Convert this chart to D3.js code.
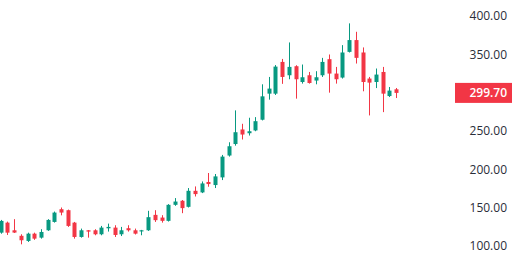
<!DOCTYPE html>
<html>
<head>
<meta charset="utf-8">
<script src="https://cdn.jsdelivr.net/npm/d3@7"></script>
<style>
  html, body { margin: 0; padding: 0; background: #fff; overflow: hidden; }
  #chart { width: 512px; height: 265px; }
</style>
</head>
<body>
<div id="chart"></div>
<script>
// candle values, left to right
const opens  = [117.4,130.5,120.5,113.3,106.6,116.1,110.9,120.5,131.4,148.0,146.7,130.5,111.8,120.5,120.5,115.3,123.1,124.0,115.3,123.2,
                120.5,119.0,120.5,140.6,137.1,132.8,153.7,159.0,151.1,172.0,169.9,183.5,179.5,189.5,218.0,233.0,252.0,247.1,250.7,264.7,
                298.7,298.7,340.1,322.7,334.5,313.9,322.7,315.8,322.7,343.7,324.9,319.7,353.2,368.6,352.4,318.4,313.9,327.0,295.6,304.4];
const highs  = [134.0,131.8,135.0,115.3,117.4,117.4,121.9,135.0,144.9,150.2,147.5,131.4,122.7,120.8,121.9,126.2,129.2,127.1,124.9,127.1,
                122.7,121.0,145.9,146.7,140.2,154.6,162.5,160.0,175.6,177.7,184.2,195.2,193.9,218.8,235.3,276.9,259.4,267.3,268.1,310.9,
                320.5,336.0,344.0,365.5,335.8,336.7,327.0,328.0,345.4,349.8,333.6,362.0,390.4,379.4,359.0,320.5,331.5,333.6,307.4,306.1];
const lows   = [116.0,114.4,117.0,102.2,105.3,108.0,109.6,119.7,130.5,140.0,124.9,109.6,110.9,110.9,114.0,114.0,118.8,111.8,113.0,118.8,
                115.0,114.0,119.7,131.4,130.5,131.9,152.4,142.8,150.2,164.6,169.0,177.3,175.6,186.0,216.6,230.9,238.9,244.1,249.7,263.8,
                290.9,297.0,311.5,317.5,292.2,311.8,311.8,310.9,320.5,300.0,311.8,318.4,352.4,338.0,301.8,270.3,306.0,274.6,294.3,293.0];
const closes = [132.7,117.4,117.5,107.5,116.1,109.6,118.3,134.0,143.6,143.6,126.2,111.8,120.5,118.8,115.3,124.0,124.9,114.4,120.5,120.5,
                116.1,120.5,137.6,133.7,132.8,153.7,158.0,149.4,172.0,167.7,181.6,180.8,190.8,216.6,230.1,248.4,245.4,249.7,262.8,295.2,
                305.3,334.0,320.5,333.6,317.5,320.1,312.6,320.1,340.1,324.9,317.5,352.4,368.6,345.4,313.9,313.1,323.6,298.7,302.7,299.7];

const yTicks = [100, 150, 200, 250, 350, 400];
const lastPrice = 299.70;

const upColor = "#089981";
const downColor = "#F23645";

const width = 512, height = 265;

const candles = opens.map((o, i) => ({ i: i, o: o, h: highs[i], l: lows[i], c: closes[i] }));

const svg = d3.select("#chart").append("svg")
    .attr("width", width)
    .attr("height", height);

const x = d3.scaleLinear()
    .domain([0, candles.length - 1])
    .range([0.7, 396]);

const y = d3.scaleLinear()
    .domain([100, 400])
    .range([246, 16]);

const bodyW = 4;

const g = svg.append("g");

const candle = g.selectAll("g.candle")
    .data(candles)
    .enter().append("g")
    .attr("class", "candle")
    .attr("fill", d => d.c >= d.o ? upColor : downColor)
    .attr("stroke", d => d.c >= d.o ? upColor : downColor);

// wicks
candle.append("line")
    .attr("x1", d => Math.round(x(d.i)) + 0.5)
    .attr("x2", d => Math.round(x(d.i)) + 0.5)
    .attr("y1", d => y(d.h))
    .attr("y2", d => y(d.l))
    .attr("stroke-width", 1);

// bodies
candle.append("rect")
    .attr("x", d => Math.round(x(d.i)) - bodyW / 2 + 0.5)
    .attr("width", bodyW)
    .attr("y", d => y(Math.max(d.o, d.c)))
    .attr("height", d => Math.max(1, Math.abs(y(d.o) - y(d.c))))
    .attr("stroke", "none");

// right price axis
const axis = svg.append("g")
    .attr("font-family", "'Open Sans', 'Noto Sans', sans-serif")
    .attr("font-size", 12);

axis.selectAll("text.tick")
    .data(yTicks)
    .enter().append("text")
    .attr("class", "tick")
    .attr("x", 507)
    .attr("y", d => y(d))
    .attr("dy", "0.35em")
    .attr("text-anchor", "end")
    .attr("fill", "#2a2e39")
    .text(d => d3.format(".2f")(d));

// last price label
axis.append("rect")
    .attr("x", 455)
    .attr("y", y(lastPrice) - 10)
    .attr("width", 57)
    .attr("height", 20)
    .attr("fill", downColor);

axis.append("text")
    .attr("x", 507)
    .attr("y", y(lastPrice))
    .attr("dy", "0.36em")
    .attr("text-anchor", "end")
    .attr("fill", "#fff")
    .attr("font-weight", 600)
    .text(d3.format(".2f")(lastPrice));
</script>
</body>
</html>
